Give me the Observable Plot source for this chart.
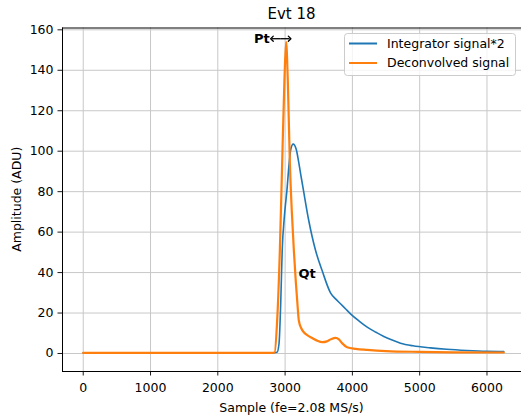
<!DOCTYPE html>
<html>
<head>
<meta charset="utf-8">
<script src="https://cdn.jsdelivr.net/npm/d3@7"></script>
<script src="https://cdn.jsdelivr.net/npm/@observablehq/plot@0.6"></script>
<style>
  html, body { margin: 0; padding: 0; background: #fff; }
  svg { font-family: "DejaVu Sans", sans-serif; }
</style>
</head>
<body>
<div id="chart"></div>
<script>
// ---- data ----
const title = "Evt 18";
const xLabel = "Sample (fe=2.08 MS/s)";
const yLabel = "Amplitude (ADU)";
const xTicks = [0, 1000, 2000, 3000, 4000, 5000, 6000];
const yTicks = [0, 20, 40, 60, 80, 100, 120, 140, 160];
const xDomain = [-308, 6513];
const yDomain = [-8.9, 160.9];

const seriesNames = ["Integrator signal*2", "Deconvolved signal"];
const seriesColors = ["#1f77b4", "#ff7f0e"];

const integX = [0, 1000, 2000, 2800, 2880, 2910, 2935, 2957, 2990, 3028, 3060, 3085, 3120, 3165, 3200, 3240, 3273, 3350, 3452, 3550, 3675, 3750, 3823, 3900, 3972, 4100, 4220, 4350, 4467, 4600, 4715, 4900, 5160, 5400, 5700, 6000, 6250];
const integY = [0.3, 0.3, 0.3, 0.3, 0.6, 5, 25, 51, 68, 81, 94, 101, 103.5, 101, 95, 87, 80.6, 66, 51, 41, 30, 27, 24.6, 22, 19.6, 16, 13, 10.5, 8.4, 6.5, 5.1, 3.8, 2.8, 2.1, 1.5, 1.1, 1.0];

const deconvX = [0, 1000, 2000, 2800, 2843, 2880, 2922, 2957, 2990, 3015, 3040, 3070, 3100, 3130, 3160, 3180, 3204, 3240, 3278, 3340, 3402, 3480, 3551, 3620, 3680, 3749, 3800, 3850, 3922, 4050, 4220, 4500, 5000, 5500, 6250];
const deconvY = [0.3, 0.3, 0.3, 0.3, 0.5, 15, 51, 95, 135, 154, 135, 95, 70, 51, 35, 26, 16.3, 12.5, 10.5, 8.8, 7.7, 6.3, 5.6, 6, 7, 7.7, 7, 5, 3.1, 2.3, 1.8, 1.2, 0.8, 0.6, 0.5];

const labelTexts = ["Pt", "Qt"];
const labelX = [2772, 3200];
const labelY = [155.6, 39.5];
const arrowX = [2805, 3067];
const arrowY = [155.6, 155.6];

// ---- tables ----
const integ = integX.map((x, i) => ({x, y: integY[i]}));
const deconv = deconvX.map((x, i) => ({x, y: deconvY[i]}));
const labels = labelTexts.map((t, i) => ({t, x: labelX[i], y: labelY[i]}));
const arrowMid = (arrowX[0] + arrowX[1]) / 2;
const arrows = [
  {x1: arrowMid, x2: arrowX[0], y1: arrowY[0], y2: arrowY[0]},
  {x1: arrowMid, x2: arrowX[1], y1: arrowY[1], y2: arrowY[1]}
];

const W = 521, H = 419;
const mL = 62, mR = 0, mT = 27.5, mB = 48;

const chart = Plot.plot({
  width: W,
  height: H,
  marginLeft: mL,
  marginRight: mR,
  marginTop: mT,
  marginBottom: mB,
  style: {fontFamily: "DejaVu Sans, sans-serif", fontSize: "12.5px", color: "#000", background: "#fff", overflow: "visible"},
  x: {domain: xDomain, ticks: xTicks},
  y: {domain: yDomain, ticks: yTicks},
  marks: [
    Plot.gridX(xTicks, {stroke: "#c8c8c8", strokeOpacity: 1, strokeWidth: 1}),
    Plot.gridY(yTicks, {stroke: "#c8c8c8", strokeOpacity: 1, strokeWidth: 1}),
    Plot.axisX({ticks: xTicks, tickFormat: d3.format("d"), tickSize: 4.5, tickPadding: 7.5, fontSize: 12.5, label: null, stroke: "#000", strokeWidth: 0.9}),
    Plot.axisY({ticks: yTicks, tickFormat: d3.format("d"), tickSize: 4.5, tickPadding: 4.5, fontSize: 12.5, label: null, stroke: "#000", strokeWidth: 0.9}),
    Plot.ruleX([xDomain[0]], {stroke: "#000", strokeWidth: 1}),
    Plot.ruleY([yDomain[0], yDomain[1]], {stroke: "#000", strokeWidth: 1}),
    Plot.line(integ, {x: "x", y: "y", stroke: seriesColors[0], strokeWidth: 1.6, curve: "monotone-x"}),
    Plot.line(deconv, {x: "x", y: "y", stroke: seriesColors[1], strokeWidth: 2.2, curve: "monotone-x"}),
    Plot.link(arrows, {x1: "x1", y1: "y1", x2: "x2", y2: "y2", stroke: "#000", strokeWidth: 1.3, markerEnd: "arrow"}),
    Plot.text(labels.slice(0, 1), {x: "x", y: "y", text: "t", textAnchor: "end", fontWeight: "bold", fontSize: 13, fill: "#000"}),
    Plot.text(labels.slice(1), {x: "x", y: "y", text: "t", textAnchor: "start", fontWeight: "bold", fontSize: 13, fill: "#000"})
  ]
});

document.getElementById("chart").appendChild(chart);

// ---- chrome: title, axis labels, legend ----
const svg = d3.select(chart);
const plotCx = mL + (W - mL - mR) / 2;
const plotCy = mT + (H - mT - mB) / 2;

svg.append("text").attr("x", plotCx).attr("y", 13.5).attr("dy", "0.35em")
  .attr("text-anchor", "middle").attr("font-size", 15).attr("fill", "#000").text(title);
svg.append("text").attr("x", plotCx).attr("y", 408).attr("dy", "0.35em")
  .attr("text-anchor", "middle").attr("font-size", 12.5).attr("fill", "#000").text(xLabel);
svg.append("text").attr("transform", `translate(17,${plotCy}) rotate(-90)`).attr("dy", "0.35em")
  .attr("text-anchor", "middle").attr("font-size", 12.5).attr("fill", "#000").text(yLabel);

const lg = svg.append("g");
lg.append("rect").attr("x", 344.5).attr("y", 33.5).attr("width", 171).attr("height", 42).attr("rx", 3)
  .attr("fill", "#fff").attr("fill-opacity", 0.8).attr("stroke", "#cccccc").attr("stroke-width", 1);
seriesNames.forEach((name, i) => {
  const yy = 43.5 + i * 19.5;
  lg.append("line").attr("x1", 349).attr("x2", 377).attr("y1", yy).attr("y2", yy)
    .style("stroke", seriesColors[i]).style("stroke-width", "2px");
  lg.append("text").attr("x", 387).attr("y", yy).attr("dy", "0.35em")
    .attr("text-anchor", "start").style("text-anchor", "start")
    .attr("font-size", 12.5).attr("fill", "#000").text(name);
});
</script>
</body>
</html>
